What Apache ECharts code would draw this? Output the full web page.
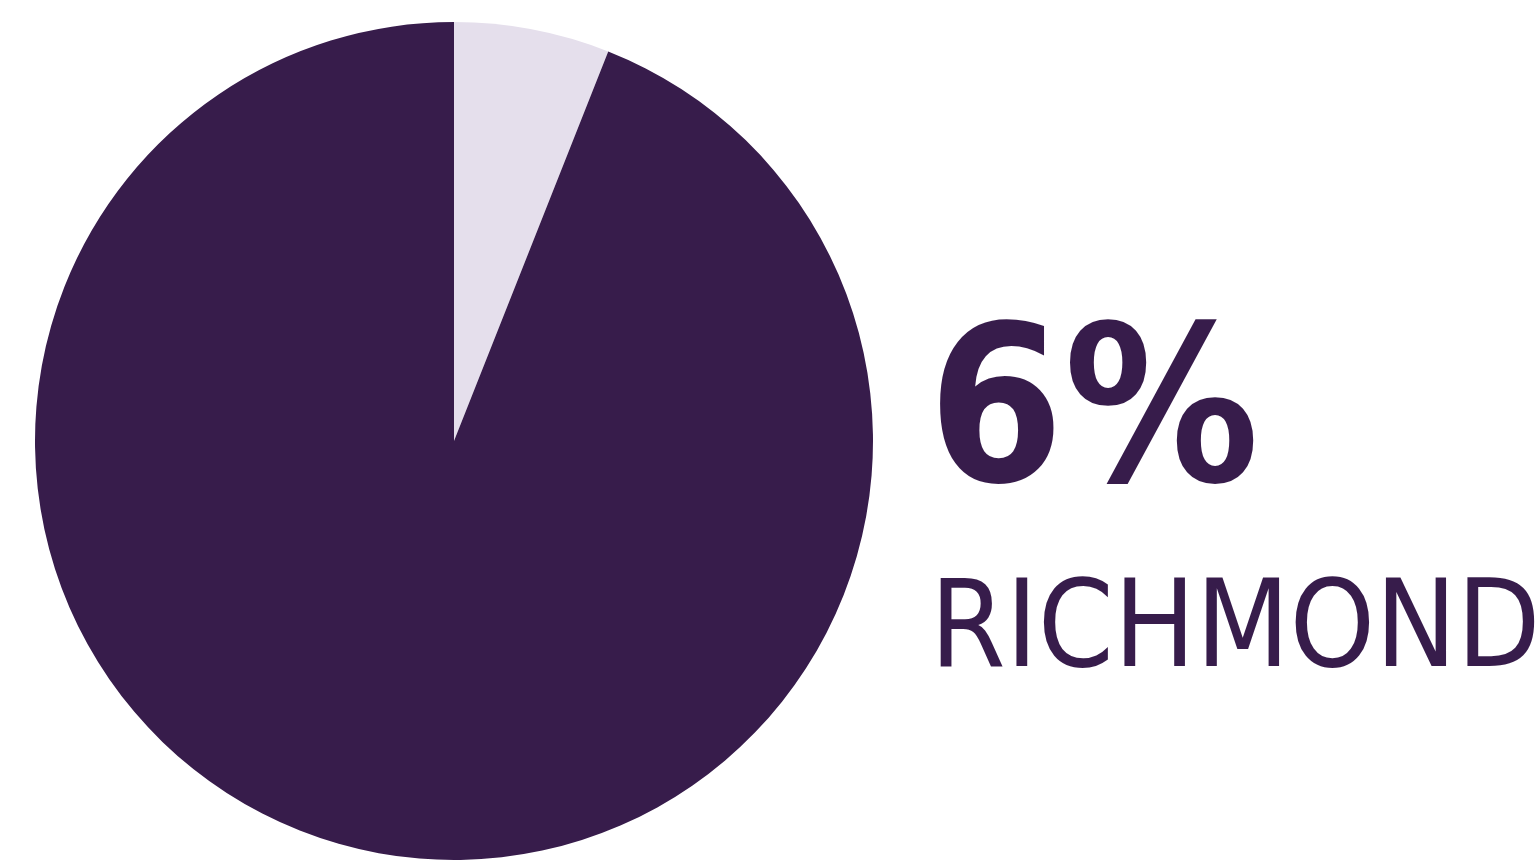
<!DOCTYPE html>
<html>
<head>
<meta charset="utf-8">
<script src="https://cdn.jsdelivr.net/npm/echarts@6/dist/echarts.min.js"></script>
<style>
html,body{margin:0;padding:0;background:#fff;}
#chart{width:1540px;height:864px;}
</style>
</head>
<body>
<div id="chart"></div>
<script>
const categories = ['Richmond', 'Other'];
const shares = [6, 94];
const bigLabel = '6%';
const placeLabel = 'RICHMOND';

const chart = echarts.init(document.getElementById('chart'), null, {renderer: 'canvas'});
chart.setOption({
  backgroundColor: '#ffffff',
  animation: false,
  color: ['#E5DFEC', '#371C4B'],
  graphic: [
    {
      type: 'text', x: 928, y: 425,
      style: {
        text: bigLabel, fill: '#371C4B',
        font: 'bold 217px "DejaVu Sans Condensed", "DejaVu Sans", sans-serif',
        verticalAlign: 'middle', align: 'left'
      }
    },
    {
      type: 'text', x: 930, y: 635,
      style: {
        text: placeLabel, fill: '#371C4B',
        font: '121px "DejaVu Sans Condensed", "DejaVu Sans", sans-serif',
        verticalAlign: 'middle', align: 'left'
      }
    }
  ],
  series: [{
    type: 'pie',
    center: [454, 441],
    radius: [0, 419],
    startAngle: 90,
    clockwise: true,
    label: {show: false},
    labelLine: {show: false},
    emphasis: {disabled: true},
    data: categories.map((c, i) => ({name: c, value: shares[i]}))
  }]
});
</script>
</body>
</html>
